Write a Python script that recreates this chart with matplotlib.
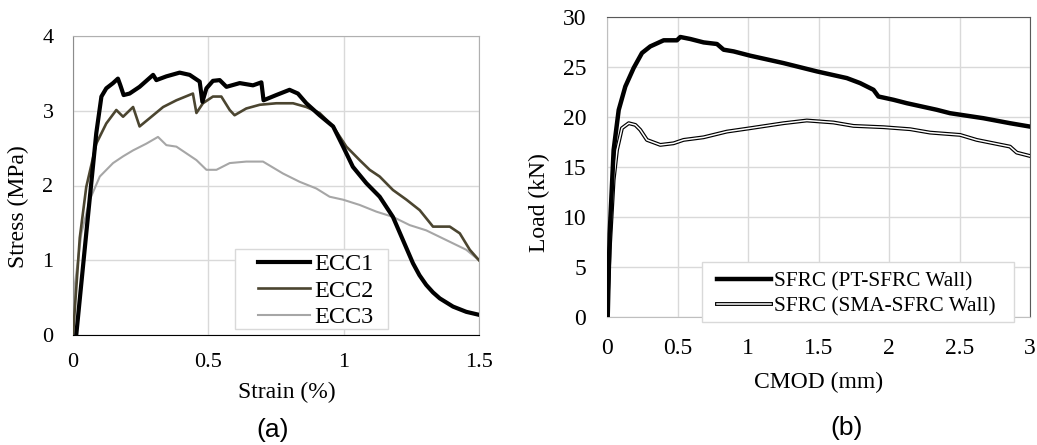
import matplotlib
matplotlib.use("Agg")
import matplotlib.pyplot as plt
from matplotlib.patches import Rectangle

# ---------------- data (a) ----------------
ecc1_strain = [0.012, 0.049, 0.086, 0.105, 0.123, 0.148, 0.166, 0.175, 0.187, 0.209, 0.246, 0.296, 0.308,
               0.345, 0.394, 0.431, 0.468, 0.478, 0.493, 0.517, 0.542, 0.567, 0.616, 0.665, 0.696, 0.704,
               0.751, 0.800, 0.831, 0.862, 0.911, 0.961, 0.998, 1.034, 1.084, 1.133, 1.182, 1.219, 1.256,
               1.280, 1.305, 1.330, 1.355, 1.404, 1.453, 1.500]
ecc1_stress = [0.0, 1.36, 2.70, 3.19, 3.30, 3.37, 3.43, 3.34, 3.21, 3.23, 3.32, 3.48, 3.41,
               3.46, 3.51, 3.48, 3.39, 3.12, 3.30, 3.40, 3.41, 3.32, 3.37, 3.34, 3.38, 3.14,
               3.21, 3.28, 3.23, 3.10, 2.94, 2.79, 2.52, 2.25, 2.03, 1.85, 1.58, 1.27, 0.96,
               0.80, 0.67, 0.57, 0.49, 0.38, 0.31, 0.27]

ecc2_strain = [0.0, 0.025, 0.049, 0.086, 0.123, 0.160, 0.185, 0.222, 0.246, 0.283, 0.333, 0.382, 0.443,
               0.456, 0.480, 0.517, 0.548, 0.579, 0.597, 0.640, 0.690, 0.751, 0.813, 0.862, 0.911, 0.961,
               1.010, 1.059, 1.096, 1.133, 1.182, 1.232, 1.281, 1.330, 1.392, 1.429, 1.466, 1.500]
ecc2_stress = [0.0, 1.30, 1.98, 2.56, 2.83, 3.01, 2.92, 3.05, 2.79, 2.90, 3.05, 3.14, 3.23,
               2.97, 3.10, 3.19, 3.19, 3.01, 2.94, 3.03, 3.08, 3.10, 3.10, 3.05, 2.97, 2.79,
               2.52, 2.34, 2.21, 2.12, 1.94, 1.81, 1.67, 1.45, 1.45, 1.36, 1.14, 1.00]

ecc3_strain = [0.0, 0.006, 0.031, 0.062, 0.099, 0.148, 0.185, 0.222, 0.271, 0.314, 0.345, 0.382, 0.419,
               0.456, 0.493, 0.530, 0.579, 0.640, 0.702, 0.776, 0.837, 0.899, 0.948, 0.998, 1.059, 1.121,
               1.182, 1.244, 1.305, 1.379, 1.453, 1.500]
ecc3_stress = [0.0, 0.65, 1.36, 1.81, 2.12, 2.30, 2.39, 2.47, 2.56, 2.65, 2.54, 2.52, 2.43,
               2.34, 2.21, 2.21, 2.30, 2.32, 2.32, 2.16, 2.05, 1.96, 1.85, 1.81, 1.74, 1.65,
               1.58, 1.47, 1.40, 1.27, 1.14, 1.00]

# ---------------- data (b) ----------------
pt_cmod = [0.005, 0.019, 0.047, 0.083, 0.130, 0.189, 0.248, 0.307, 0.402, 0.496, 0.520, 0.591, 0.685,
           0.780, 0.827, 0.898, 1.016, 1.252, 1.488, 1.701, 1.795, 1.890, 1.925, 2.032, 2.126, 2.339,
           2.433, 2.669, 2.858, 3.0]
pt_load = [0.0, 8.35, 16.7, 20.7, 23.05, 24.9, 26.4, 27.06, 27.67, 27.67, 28.0, 27.8, 27.46,
           27.3, 26.73, 26.56, 26.13, 25.39, 24.56, 23.89, 23.39, 22.72, 22.05, 21.72, 21.38, 20.72,
           20.38, 19.88, 19.38, 19.04]

sma_cmod = [0.0, 0.019, 0.047, 0.071, 0.106, 0.154, 0.201, 0.236, 0.283, 0.378, 0.472, 0.543, 0.685,
            0.850, 1.016, 1.252, 1.417, 1.606, 1.748, 1.961, 2.150, 2.291, 2.504, 2.622, 2.858, 2.906, 3.0]
sma_load = [0.0, 6.68, 13.7, 16.7, 18.88, 19.38, 19.21, 18.71, 17.71, 17.21, 17.37, 17.71, 17.97,
            18.54, 18.88, 19.38, 19.65, 19.45, 19.11, 18.98, 18.78, 18.44, 18.21, 17.71, 17.04, 16.44, 16.10]

a_xticks = [0, 0.5, 1, 1.5]
a_xticklabels = ["0", "0.5", "1", "1.5"]
a_yticks = [0, 1, 2, 3, 4]
b_xticks = [0, 0.5, 1, 1.5, 2, 2.5, 3]
b_xticklabels = ["0", "0.5", "1", "1.5", "2", "2.5", "3"]
b_yticks = [0, 5, 10, 15, 20, 25, 30]

W, H = 1037, 445
serif = "Liberation Serif"
sans = "Liberation Sans"
grid_c = "#d9d9d9"

fig = plt.figure(figsize=(W / 100, H / 100), dpi=100)

def px_axes(x0, y0, x1, y1):
    return fig.add_axes([x0 / W, 1 - y1 / H, (x1 - x0) / W, (y1 - y0) / H])

def legend_box(ax, x0, y0, x1, y1):
    ax.add_patch(Rectangle((x0 / W, 1 - y1 / H), (x1 - x0) / W, (y1 - y0) / H,
                           transform=fig.transFigure, facecolor="white", edgecolor=grid_c,
                           linewidth=1.0, zorder=5, clip_on=False))

# ---------- panel (a) ----------
ax1 = px_axes(73, 36, 479, 335)
ax1.plot(ecc1_strain, ecc1_stress, color="black", lw=3.0, label="ECC1", zorder=4)
ax1.plot(ecc2_strain, ecc2_stress, color="#4b4530", lw=1.9, label="ECC2", zorder=3)
ax1.plot(ecc3_strain, ecc3_stress, color="#a6a6a6", lw=1.5, label="ECC3", zorder=2)
ax1.set_xlim(0, 1.5)
ax1.set_ylim(0, 4)
ax1.set_xticks(a_xticks)
ax1.set_xticklabels(a_xticklabels)
ax1.set_yticks(a_yticks)
ax1.grid(True, color=grid_c, lw=1.0)
ax1.set_axisbelow(True)
ax1.tick_params(length=0, labelsize=16)
ax1.tick_params(axis="x", pad=13)
ax1.tick_params(axis="y", pad=14)
for lab in ax1.get_xticklabels() + ax1.get_yticklabels():
    lab.set_fontfamily(serif)
ax1.spines["left"].set_color("#8c8c8c")
ax1.spines["bottom"].set_color("black")
ax1.spines["top"].set_color("#b0b0b0")
ax1.spines["right"].set_color("#b0b0b0")
legend_box(ax1, 235, 249, 388, 329)
leg1 = ax1.legend(loc="upper left", bbox_to_anchor=(258 / W, 1 - 253 / H),
                  bbox_transform=fig.transFigure,
                  prop={"family": serif, "size": 17.5}, frameon=False,
                  handlelength=2.15, handletextpad=0.15,
                  labelspacing=0.19, borderpad=0.0, borderaxespad=0)
leg1.set_zorder(6)

fig.text(287 / W, 1 - 392 / H, "Strain (%)", family=serif, fontsize=17, ha="center", va="center")
fig.text(18 / W, 1 - 207 / H, "Stress (MPa)", family=serif, fontsize=17, ha="center", va="center",
         rotation=90)
fig.text(273 / W, 1 - 430 / H, "(a)", family=sans, fontsize=19, ha="center", va="center")

# ---------- panel (b) ----------
ax2 = px_axes(607, 17, 1030, 317)
ax2.plot(pt_cmod, pt_load, color="black", lw=3.2, label="SFRC (PT-SFRC Wall)", zorder=4)
l_out, = ax2.plot(sma_cmod, sma_load, color="black", lw=2.8, zorder=3)
l_in, = ax2.plot(sma_cmod, sma_load, color="white", lw=1.1, zorder=3.1)
ax2.set_xlim(0, 3)
ax2.set_ylim(0, 30)
ax2.set_xticks(b_xticks)
ax2.set_xticklabels(b_xticklabels)
ax2.set_yticks(b_yticks)
ax2.grid(True, color=grid_c, lw=1.0)
ax2.set_axisbelow(True)
ax2.tick_params(length=0, labelsize=17)
ax2.tick_params(axis="x", pad=15)
ax2.tick_params(axis="y", pad=15)
for lab in ax2.get_xticklabels() + ax2.get_yticklabels():
    lab.set_fontfamily(serif)
ax2.spines["left"].set_color("#bfbfbf")
ax2.spines["bottom"].set_color("#bfbfbf")
ax2.spines["top"].set_color("#595959")
ax2.spines["right"].set_color("#595959")
legend_box(ax2, 702, 262, 1014, 322)
handles = [ax2.get_lines()[0], (l_out, l_in)]
labels = ["SFRC (PT-SFRC Wall)", "SFRC (SMA-SFRC Wall)"]
leg2 = ax2.legend(handles, labels, loc="upper left",
                  bbox_to_anchor=(717 / W, 1 - 272 / H), bbox_transform=fig.transFigure,
                  prop={"family": serif, "size": 15.3}, frameon=False,
                  handlelength=2.55, handletextpad=0.15,
                  labelspacing=0.22, borderpad=0.0, borderaxespad=0)
leg2.set_zorder(6)

fig.text(819 / W, 1 - 382 / H, "CMOD (mm)", family=serif, fontsize=17, ha="center", va="center")
fig.text(539 / W, 1 - 203 / H, "Load (kN)", family=serif, fontsize=17, ha="center", va="center",
         rotation=90)
fig.text(847 / W, 1 - 428 / H, "(b)", family=sans, fontsize=19, ha="center", va="center")

fig.savefig("out.png", dpi=100)
